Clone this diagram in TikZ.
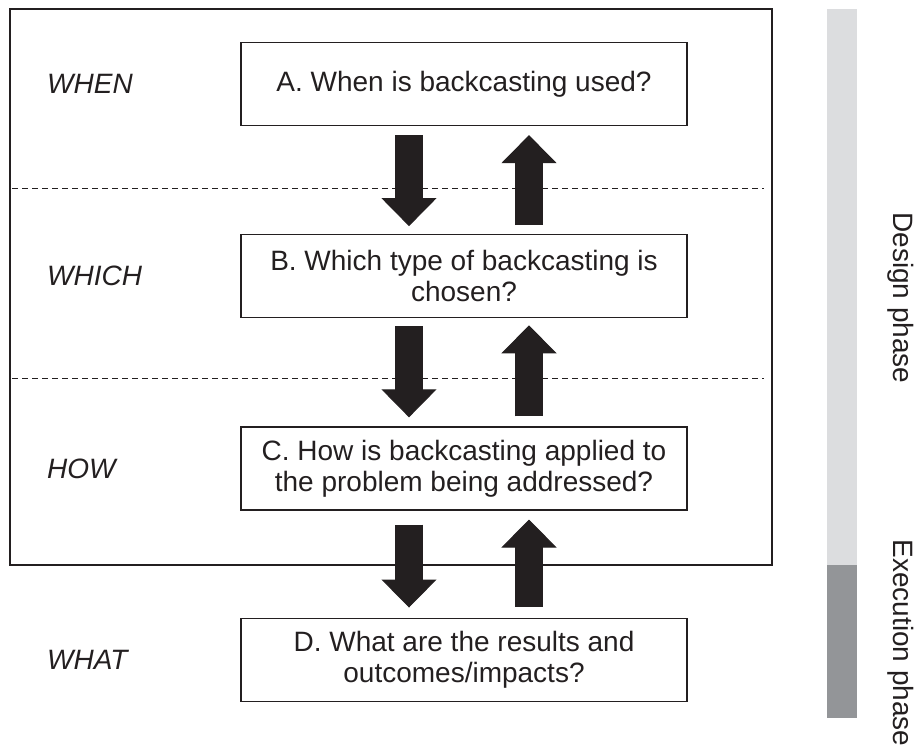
\documentclass[tikz,border=0pt]{standalone}
\usepackage{fontspec}
\setmainfont{Liberation Sans}
\usetikzlibrary{positioning}
\usetikzlibrary{arrows.meta}

\definecolor{inkblack}{HTML}{231F20}
\definecolor{designgray}{HTML}{DCDDDF}
\definecolor{execgray}{HTML}{939598}

\tikzset{
   question/.style={draw=inkblack, line width=1.2pt, minimum width=446pt,
      minimum height=83pt, inner sep=0pt, align=center, text=inkblack,
      font=\fontsize{28}{31}\selectfont},
   stage/.style={anchor=west, inner sep=0pt, text=inkblack,
      font=\fontsize{28}{31}\selectfont\itshape},
   phase/.style={rotate=-90, anchor=base, inner sep=0pt, text=inkblack,
      font=\fontsize{28}{31}\selectfont},
   blockarrow/.style={draw=inkblack, line width=28pt,
      -{Triangle[length=28pt, width=55pt, line width=1pt]}},
}

\begin{document}
\begin{tikzpicture}[x=1pt, y=-1pt]
   \useasboundingbox (0,0) rectangle (919,748);

   % outer frame of the design part
   \draw[inkblack, line width=1.2pt] (10,9) rectangle (772,565);
   \draw[inkblack, line width=0.9pt, dash pattern=on 6pt off 4pt] (12,188) -- (764,188);
   \draw[inkblack, line width=0.9pt, dash pattern=on 6pt off 4pt] (12,378) -- (764,378);

   % question boxes
   \node[question]                    (a) at (464,84) {A. When is backcasting used?};
   \node[question, below=108pt of a]  (b) {B. Which type of backcasting is\\chosen?};
   \node[question, below=108pt of b]  (c) {C. How is backcasting applied to\\the problem being addressed?};
   \node[question, below=107pt of c]  (d) {D. What are the results and\\outcomes/impacts?};

   % stage labels
   \coordinate (lx) at (47,0);
   \node[stage] (when)  at (lx |- a) {WHEN};
   \node[stage] (which) at (lx |- b) {WHICH};
   \node[stage] (how)   at (lx |- c) {HOW};
   \node[stage] (what)  at (lx |- d) {WHAT};

   % down and up arrows
   \draw[blockarrow, shorten <=9pt,  shorten >=8pt]  ([xshift=-55pt]a.south) -- ([xshift=-55pt]b.north);
   \draw[blockarrow, shorten <=9pt,  shorten >=9pt]  ([xshift=65pt]b.north)  -- ([xshift=65pt]a.south);
   \draw[blockarrow, shorten <=8pt,  shorten >=9pt]  ([xshift=-55pt]b.south) -- ([xshift=-55pt]c.north);
   \draw[blockarrow, shorten <=10pt, shorten >=7pt]  ([xshift=65pt]c.north)  -- ([xshift=65pt]b.south);
   \draw[blockarrow, shorten <=14pt, shorten >=10pt] ([xshift=-55pt]c.south) -- ([xshift=-55pt]d.north);
   \draw[blockarrow, shorten <=11pt, shorten >=9pt]  ([xshift=65pt]d.north)  -- ([xshift=65pt]c.south);

   % phase bar
   \fill[designgray] (827,9)   rectangle (857,565);
   \fill[execgray]   (827,565) rectangle (857,718);
   \node[phase] (design) at (893,298) {Design phase};
   \node[phase] (exec)   at (893,643) {Execution phase};
\end{tikzpicture}
\end{document}
